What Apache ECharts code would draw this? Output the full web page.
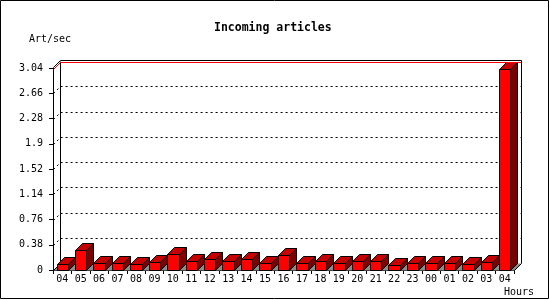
<!DOCTYPE html>
<html><head><meta charset="utf-8">
<script src="https://cdn.jsdelivr.net/npm/echarts@6/dist/echarts.min.js"></script>
<style>html,body{margin:0;padding:0;background:#fff}#c{width:550px;height:300px}</style>
</head><body><div id="c"></div>
<script>
// ---- data ----
const categories = ['04','05','06','07','08','09','10','11','12','13','14','15','16','17','18','19','20','21','22','23','00','01','02','03','04'];
const values = [0.09,0.30,0.10,0.10,0.09,0.12,0.24,0.14,0.17,0.13,0.16,0.11,0.22,0.11,0.13,0.11,0.13,0.13,0.07,0.10,0.10,0.10,0.09,0.12,3.03];
const yTicks = [0,0.38,0.76,1.14,1.52,1.9,2.28,2.66,3.04];
const yMax = 3.04;
const yInterval = 0.38;
const titleText = 'Incoming articles';
const yName = 'Art/sec';
const xName = 'Hours';

// ---- style ----
const FONT = 'DejaVu Sans Mono';
const D = 7;              // 3D depth
const BAR_RATIO = 0.62;
const FRONT = '#ff0000', TOP = '#c40000', SIDE = '#7e0000', FLOOR = '#8c8c8c';

function crisp(v){ return Math.round(v) + 0.5; }

const chart = echarts.init(document.getElementById('c'), null, {renderer:'canvas'});

function renderFloor(params, api){
  const cs = params.coordSys;
  const L = crisp(cs.x), R = crisp(cs.x + cs.width), B = crisp(cs.y + cs.height);
  const T = crisp(api.coord([0, yMax])[1]);
  return {type:'group', children:[
    {type:'polygon', shape:{points:[[L,B],[L+D,B-D],[R+D,B-D],[R,B]]}, style:{fill:FLOOR, stroke:null}},
    {type:'polyline', shape:{points:[[L,B],[L+D,B-D]]}, style:{stroke:'#000', lineWidth:1, fill:null}},
    {type:'polyline', shape:{points:[[L+D,T-D],[L+D,B-D]]}, style:{stroke:'#000', lineWidth:1, fill:null}}
  ]};
}

function renderGridLine(params, api){
  const cs = params.coordSys;
  const L = crisp(cs.x), R = crisp(cs.x + cs.width);
  const y = crisp(api.coord([0, api.value(1)])[1]);
  return {type:'polyline', shape:{points:[[L,y],[L+D,y-D],[R+D,y-D]]},
    style:{stroke:'#000', lineWidth:1, fill:null, lineDash:[2,3]}};
}

function renderBar(params, api){
  const i = api.value(0), v = api.value(1);
  const top = api.coord([i, v]);
  const bot = api.coord([i, 0]);
  const slot = api.size([1, 0])[0];
  const bw = slot * BAR_RATIO;
  const xl = crisp(top[0] - bw/2), xr = crisp(top[0] + bw/2);
  const yt = crisp(top[1]), yb = crisp(bot[1]);
  const st = {stroke:'#000', lineWidth:1};
  return {type:'group', children:[
    {type:'polygon', shape:{points:[[xr,yt],[xr+D,yt-D],[xr+D,yb-D],[xr,yb]]}, style:Object.assign({fill:SIDE}, st)},
    {type:'polygon', shape:{points:[[xl,yt],[xl+D,yt-D],[xr+D,yt-D],[xr,yt]]}, style:Object.assign({fill:TOP}, st)},
    {type:'polygon', shape:{points:[[xl,yb],[xl,yt],[xr,yt],[xr,yb]]}, style:Object.assign({fill:FRONT}, st)}
  ]};
}

function renderFrame(params, api){
  const cs = params.coordSys;
  const L = crisp(cs.x), R = crisp(cs.x + cs.width), B = crisp(cs.y + cs.height);
  const T = crisp(api.coord([0, api.value(1)])[1]);
  return {type:'group', children:[
    {type:'polyline', shape:{points:[[L,T+1],[L+D,T-D+1],[R+D,T-D+1]]}, style:{stroke:'#ff0000', lineWidth:1, fill:null}},
    {type:'polyline', shape:{points:[[L,T-1],[L+D,T-D-1],[R+D,T-D-1],[R+D,B-D],[R,B]]}, style:{stroke:'#000', lineWidth:1, fill:null}}
  ]};
}

const option = {
  animation:false,
  backgroundColor:'#fff',
  title:[
    {text:titleText, left:214, top:21, padding:0, textStyle:{fontFamily:FONT, fontSize:11.5, fontWeight:'bold', color:'#000', lineHeight:14}},
    {text:yName, left:29, top:33, padding:0, textStyle:{fontFamily:FONT, fontSize:10, fontWeight:'normal', color:'#000', lineHeight:12}},
    {text:xName, left:504, top:286, padding:0, textStyle:{fontFamily:FONT, fontSize:10, fontWeight:'normal', color:'#000', lineHeight:12}}
  ],
  grid:{left:53, top:68, width:461, height:202},
  xAxis:{type:'category', data:categories, boundaryGap:true,
    axisLine:{show:true, lineStyle:{color:'#000', width:1}},
    axisTick:{show:true, length:4, alignWithLabel:false, interval:0, lineStyle:{color:'#000'}},
    axisLabel:{color:'#000', fontFamily:FONT, fontSize:10, margin:4, interval:0},
    splitLine:{show:false}},
  yAxis:{type:'value', min:0, max:yMax, interval:yInterval,
    axisLine:{show:true, lineStyle:{color:'#000', width:1}},
    axisTick:{show:true, length:4, lineStyle:{color:'#000'}},
    axisLabel:{color:'#000', fontFamily:FONT, fontSize:10, margin:10},
    splitLine:{show:false}},
  graphic:[{type:'rect', silent:true, z:100, shape:{x:0.5, y:0.5, width:548, height:298}, style:{fill:null, stroke:'#000', lineWidth:1}}],
  series:[
    {type:'custom', name:'floor', renderItem:renderFloor, data:[[0,0]], encode:{x:0,y:1}, silent:true},
    {type:'custom', name:'grid', renderItem:renderGridLine, data:yTicks.filter(v => v > 0 && v < yMax).map(v => [0, v]), encode:{x:0,y:1}, silent:true},
    {type:'custom', name:'Incoming articles', renderItem:renderBar, data:values.map((v,i) => [i, v]), encode:{x:0,y:1}},
    {type:'custom', name:'frame', renderItem:renderFrame, data:[[0,yMax]], encode:{x:0,y:1}, silent:true}
  ]
};
chart.setOption(option);
</script>
</body></html>
